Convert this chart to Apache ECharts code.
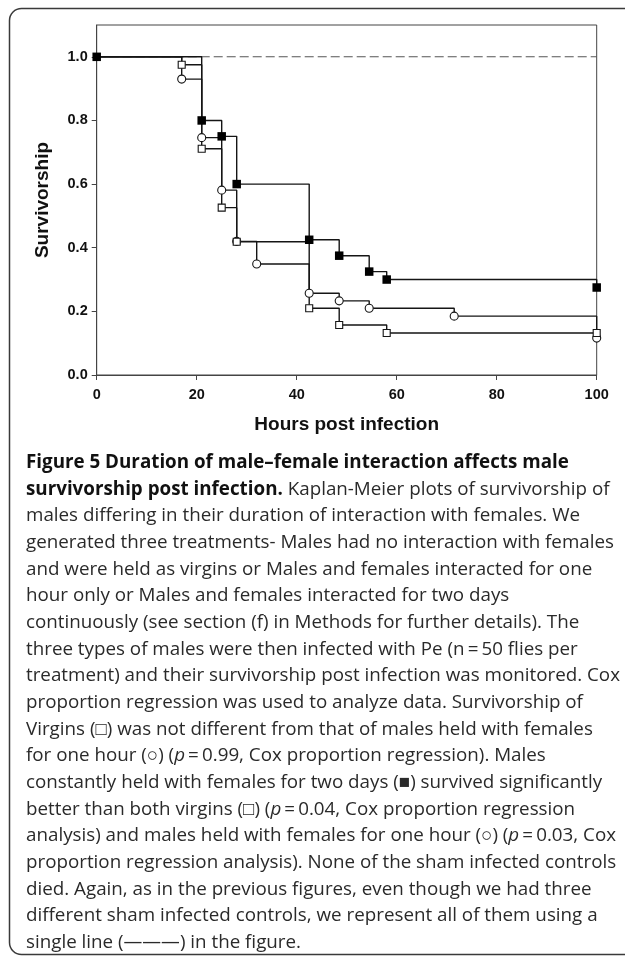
<!DOCTYPE html>
<html>
<head>
<meta charset="utf-8">
<script src="https://cdn.jsdelivr.net/npm/echarts@6/dist/echarts.min.js"></script>
<style>
  html, body { margin: 0; padding: 0; background: #fff; }
  #main { width: 625px; height: 957px; }
</style>
</head>
<body>
<div id="main"></div>
<script>
// survivorship readings (hours post infection, proportion alive)
var hoursTwoDays = [0, 21, 25, 28, 42.5, 48.5, 54.5, 58, 100];
var survTwoDays  = [1.0, 0.80, 0.75, 0.60, 0.425, 0.375, 0.325, 0.30, 0.275];

var hoursOneHour = [0, 17, 21, 25, 28, 32, 42.5, 48.5, 54.5, 71.5, 100];
var survOneHour  = [1.0, 0.93, 0.746, 0.581, 0.42, 0.349, 0.257, 0.233, 0.21, 0.185, 0.116];

var hoursVirgin = [0, 17, 21, 25, 28, 42.5, 48.5, 58, 100];
var survVirgin  = [1.0, 0.975, 0.711, 0.526, 0.419, 0.21, 0.157, 0.132, 0.132];

var hoursSham = [0, 100];
var survSham  = [1.0, 1.0];

var yTicks = [0, 0.2, 0.4, 0.6, 0.8, 1.0];
var xTicks = [0, 20, 40, 60, 80, 100];

var captionLines = [
  '{b|Figure 5 Duration of male\u2013female interaction affects male}',
  '{b|survivorship post infection.} Kaplan-Meier plots of survivorship of',
  'males differing in their duration of interaction with females. We',
  'generated three treatments- Males had no interaction with females',
  'and were held as virgins or Males and females interacted for one',
  'hour only or Males and females interacted for two days',
  'continuously (see section (f) in Methods for further details). The',
  'three types of males were then infected with Pe (n\u2009=\u200950 flies per',
  'treatment) and their survivorship post infection was monitored. Cox',
  'proportion regression was used to analyze data. Survivorship of',
  'Virgins (\u25a1) was not different from that of males held with females',
  'for one hour (\u25cb) ({i|p}\u2009=\u20090.99, Cox proportion regression). Males',
  'constantly held with females for two days (\u25a0) survived significantly',
  'better than both virgins (\u25a1) ({i|p}\u2009=\u20090.04, Cox proportion regression',
  'analysis) and males held with females for one hour (\u25cb) ({i|p}\u2009=\u20090.03, Cox',
  'proportion regression analysis). None of the sham infected controls',
  'died. Again, as in the previous figures, even though we had three',
  'different sham infected controls, we represent all of them using a',
  'single line (\u2014\u2014\u2014) in the figure.'
];

function pairs(xs, ys, hideFirst) {
  var out = [];
  for (var i = 0; i < xs.length; i++) {
    if (i == 0 && hideFirst) {
      out.push({ value: [xs[i], ys[i]], symbol: 'none' });
    } else {
      out.push([xs[i], ys[i]]);
    }
  }
  return out;
}

var chart = echarts.init(document.getElementById('main'));

var capSize = 18.8;
var capText = [];
for (var i = 0; i < captionLines.length; i++) {
  capText.push({
    type: 'text',
    left: 26,
    top: 453 + i * 26.67,
    style: {
      text: captionLines[i],
      font: capSize + 'px "Open Sans"',
      fill: '#2a2a2a',
      rich: {
        b: { fontFamily: 'Open Sans', fontWeight: 'bold', fontSize: capSize, fill: '#111' },
        i: { fontFamily: 'Open Sans', fontStyle: 'italic', fontSize: capSize, fill: '#2a2a2a' }
      }
    }
  });
}

var lineCol = '#151515';

chart.setOption({
  animation: false,
  backgroundColor: '#fff',
  grid: {
    left: 96.7, right: 28.3, top: 25, bottom: 582,
    show: true, borderColor: '#444', borderWidth: 1,
    outerBoundsMode: 'none'
  },
  xAxis: {
    type: 'value',
    min: 0, max: 100, interval: 20,
    name: 'Hours post infection',
    nameLocation: 'middle',
    nameGap: 40,
    nameTextStyle: { fontFamily: 'Liberation Sans', fontWeight: 'bold', fontSize: 19, color: '#111' },
    axisLine: { show: true, lineStyle: { color: '#444', width: 1 } },
    axisTick: { show: true, length: 5, lineStyle: { color: '#444' }, customValues: xTicks },
    axisLabel: {
      customValues: xTicks,
      margin: 12,
      fontFamily: 'Liberation Sans', fontWeight: 'bold', fontSize: 14.5, color: '#111'
    },
    splitLine: { show: false }
  },
  yAxis: {
    type: 'value',
    min: 0, max: 1.1,
    name: 'Survivorship',
    nameLocation: 'middle',
    nameGap: 44,
    nameTextStyle: { fontFamily: 'Liberation Sans', fontWeight: 'bold', fontSize: 19, color: '#111' },
    axisLine: { show: true, lineStyle: { color: '#444', width: 1 } },
    axisTick: { show: true, length: 5, lineStyle: { color: '#444' }, customValues: yTicks },
    axisLabel: {
      customValues: yTicks,
      margin: 9,
      fontFamily: 'Liberation Sans', fontWeight: 'bold', fontSize: 14.5, color: '#111',
      formatter: function (v) { return v.toFixed(1); }
    },
    splitLine: { show: false }
  },
  graphic: [{
    type: 'rect',
    z: -10,
    shape: { x: 9.5, y: 8.5, width: 660, height: 946, r: 12 },
    style: { fill: 'none', stroke: '#3a3a3a', lineWidth: 1.5 }
  }].concat(capText),
  series: [
    {
      name: 'Sham controls',
      type: 'line',
      data: pairs(hoursSham, survSham, false),
      showSymbol: false,
      lineStyle: { color: '#555', width: 1.1, type: [9, 4] },
      silent: true
    },
    {
      name: 'One hour',
      type: 'line',
      step: 'end',
      data: pairs(hoursOneHour, survOneHour, true),
      symbol: 'circle',
      symbolSize: 8,
      showAllSymbol: true,
      lineStyle: { color: lineCol, width: 1.4 },
      itemStyle: { color: '#fff', borderColor: lineCol, borderWidth: 1.1 },
      silent: true
    },
    {
      name: 'Virgin',
      type: 'line',
      step: 'end',
      data: pairs(hoursVirgin, survVirgin, true),
      symbol: 'rect',
      symbolSize: 7,
      showAllSymbol: true,
      lineStyle: { color: lineCol, width: 1.4 },
      itemStyle: { color: '#fff', borderColor: lineCol, borderWidth: 1.1 },
      silent: true
    },
    {
      name: 'Two days',
      type: 'line',
      step: 'end',
      data: pairs(hoursTwoDays, survTwoDays, false),
      symbol: 'rect',
      symbolSize: 8.5,
      showAllSymbol: true,
      lineStyle: { color: lineCol, width: 1.4 },
      itemStyle: { color: '#000' },
      silent: true
    }
  ]
});
</script>
</body>
</html>
